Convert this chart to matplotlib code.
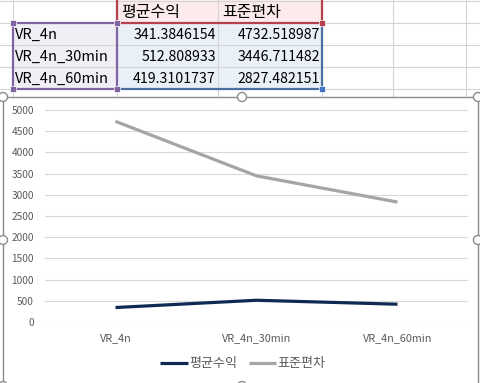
import matplotlib
matplotlib.use("Agg")
import matplotlib.pyplot as plt
from matplotlib.patches import Rectangle, Circle

plt.rcParams['font.family'] = ['Noto Sans CJK KR', 'DejaVu Sans']

categories = ['VR_4n', 'VR_4n_30min', 'VR_4n_60min']
series_names = ['평균수익', '표준편차']
mean_return = [341.3846154, 512.808933, 419.3101737]
std_dev = [4732.518987, 3446.711482, 2827.482151]
mean_text = ['341.3846154', '512.808933', '419.3101737']
std_text = ['4732.518987', '3446.711482', '2827.482151']
y_ticks = [0, 500, 1000, 1500, 2000, 2500, 3000, 3500, 4000, 4500, 5000]

W, H = 481, 383
fig = plt.figure(figsize=(W / 100, H / 100), dpi=100)

bg = fig.add_axes([0, 0, 1, 1])
bg.set_xlim(0, W)
bg.set_ylim(H, 0)
bg.axis('off')

# spreadsheet grid
grid_c = '#D4D4D4'
row_lines = [1, 23, 45, 67, 89]
col_lines = [13, 117, 218, 322, 393, 466]
for y in row_lines:
    bg.plot([0, W], [y, y], color=grid_c, lw=0.8, zorder=1)
for x in col_lines:
    bg.plot([x, x], [0, 97], color=grid_c, lw=0.8, zorder=1)

# cell fills
bg.add_patch(Rectangle((117, 0), 205, 23, facecolor='#FBEBEC', edgecolor='none', zorder=0.5))
bg.add_patch(Rectangle((13, 23), 104, 66, facecolor='#F1EEF6', edgecolor='none', zorder=0.5))
bg.add_patch(Rectangle((117, 23), 205, 66, facecolor='#EAF0F8', edgecolor='none', zorder=0.5))

# selection borders
red = '#B5404E'
purple = '#8064A2'
blue = '#4A6FA0'
bg.plot([117, 117, 322, 322], [0, 23, 23, 0], color=red, lw=1.6, zorder=3)
bg.plot([13, 117, 117, 13, 13], [23, 23, 89, 89, 23], color=purple, lw=1.6, zorder=3)
bg.plot([117, 322, 322], [89, 89, 23], color=blue, lw=1.6, zorder=2.5)
for (x, y) in [(13, 23), (117, 23), (13, 89), (117, 89)]:
    bg.add_patch(Rectangle((x - 3, y - 3), 6, 6, facecolor=purple, edgecolor='white', lw=0.5, zorder=4))
bg.add_patch(Rectangle((322 - 3, 23 - 3), 6, 6, facecolor=red, edgecolor='white', lw=0.5, zorder=4))
bg.add_patch(Rectangle((322 - 3, 89 - 3), 6, 6, facecolor='#4472C4', edgecolor='white', lw=0.5, zorder=4))

# table text
bg.text(121, 12, series_names[0], fontsize=11.5, ha='left', va='center', color='black', zorder=5)
bg.text(222, 12, series_names[1], fontsize=11.5, ha='left', va='center', color='black', zorder=5)
row_y = [35, 57, 79]
for i, cat in enumerate(categories):
    bg.text(15, row_y[i], cat, fontsize=10.5, ha='left', va='center', color='black', zorder=5)
    bg.text(216, row_y[i], mean_text[i], fontsize=10.2, ha='right', va='center', color='black', zorder=5)
    bg.text(320, row_y[i], std_text[i], fontsize=10.2, ha='right', va='center', color='black', zorder=5)

# chart area
bg.add_patch(Rectangle((3, 97), 475, 300, facecolor='white', edgecolor='#8C8C8C', lw=1.0, zorder=6))
for (x, y) in [(3, 97), (242, 97), (478, 97), (3, 240), (478, 240), (3, 386), (242, 386)]:
    bg.add_patch(Circle((x, y), 4.5, facecolor='white', edgecolor='#8C8C8C', lw=1.0, zorder=7))

# plot area
left, right, top, bottom = 45, 468, 110, 322
ax = fig.add_axes([left / W, 1 - bottom / H, (right - left) / W, (bottom - top) / H])
ax.patch.set_alpha(0)
x = list(range(len(categories)))
ax.plot(x, mean_return, color='#0F2A52', lw=2.3, label=series_names[0], solid_capstyle='butt', zorder=3)
ax.plot(x, std_dev, color='#A5A5A5', lw=2.3, label=series_names[1], solid_capstyle='butt', zorder=3)
ax.set_xlim(-0.5, 2.5)
ax.set_ylim(0, 5000)
ax.set_yticks(y_ticks)
ax.set_yticklabels([str(t) for t in y_ticks])
ax.set_xticks(x)
ax.set_xticklabels(categories, fontsize=7.8)
ax.yaxis.grid(True, color='#D9D9D9', lw=0.8)
ax.set_axisbelow(True)
for s in ax.spines.values():
    s.set_visible(False)
ax.tick_params(axis='both', length=0, colors='#595959')
ax.tick_params(axis='y', pad=8, labelsize=7.3)
ax.tick_params(axis='x', pad=8)

leg = ax.legend(loc='center', bbox_to_anchor=(243 / W, 1 - 364 / H), bbox_transform=fig.transFigure,
                ncol=2, frameon=False, fontsize=9.4, handlelength=2.1, handletextpad=0.1,
                columnspacing=0.9, labelcolor='#595959')

fig.savefig('out.png', dpi=100)
